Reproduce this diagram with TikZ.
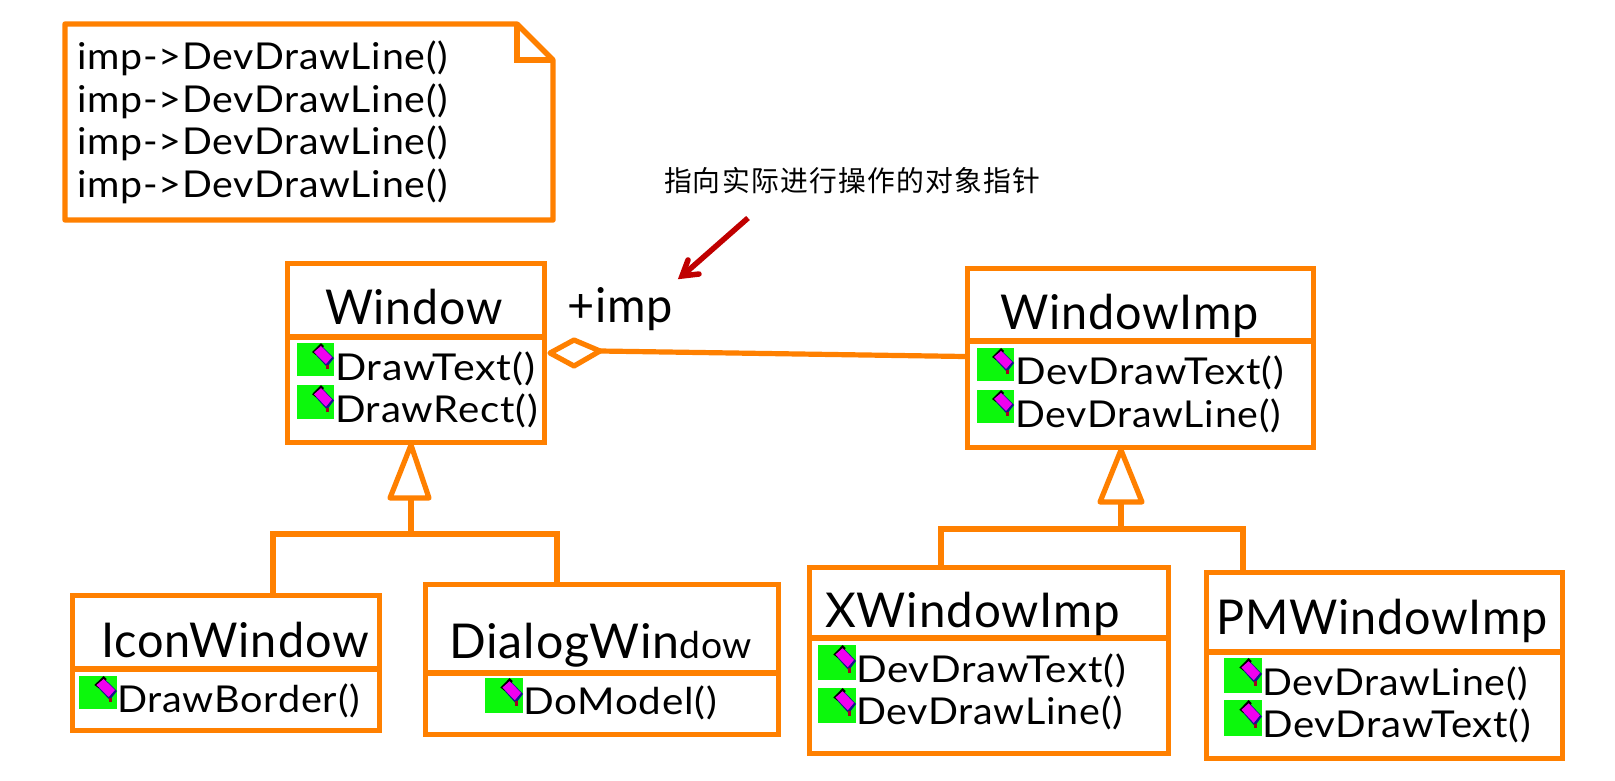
\documentclass[tikz,border=0pt]{standalone}
\usepackage{fontspec}
\usepackage{graphicx}
\setmainfont[LetterSpace=2]{Lato}
\newfontfamily\cjk[LetterSpace=4.5]{Noto Sans CJK SC}
\definecolor{umlorange}{HTML}{FF8000}
\definecolor{umlgreen}{HTML}{0CF80C}
\definecolor{umlmagenta}{HTML}{F000F0}
\definecolor{umlblue}{HTML}{14148C}
\definecolor{umlred}{HTML}{A00020}
\definecolor{arrowred}{HTML}{C00000}
\tikzset{
  x=1pt,y=-1pt,
  boxline/.style={draw=umlorange,line width=5.4pt},
  linkline/.style={draw=umlorange,line width=5.2pt,line join=miter},
  headline/.style={draw=umlorange,line width=5.2pt,line join=round,fill=white},
  classbox/.style={boxline,rectangle,inner sep=0pt,outer sep=0pt,fill=white},
  lbl/.style={inner sep=0pt,outer sep=0pt,anchor=base west,text=black},
  iconbox/.style={rectangle,fill=umlgreen,inner sep=0pt,outer sep=0pt,anchor=north west},
  pointer/.style={draw=arrowred,line width=5.5pt},
}
% name, x1, y1, x2, y2 (centre lines), divider y
\newcommand\classrect[6]{%
  \node[classbox,minimum width={(#4-#2)*1pt},minimum height={(#5-#3)*1pt}] (#1) at ({(#2+#4)/2},{(#3+#5)/2}) {};
  \draw[boxline] (#2,#6) -- (#4,#6);
}
% name, x, baseline y, ink width, size, text
\newcommand\lab[6]{%
  \pgfmathsetmacro\labw{#4+3}%
  \node[lbl] (#1) at (#2-2,#3) {\resizebox{\labw pt}{\height}{\fontsize{#5pt}{#5pt}\selectfont #6}};
}
% name, x1, y1, x2, y2
\newcommand\opicon[5]{%
  \pgfmathsetmacro\iw{#4-#2}\pgfmathsetmacro\ih{#5-#3}%
  \node[iconbox,minimum width=\iw pt,minimum height=\ih pt] (#1) at (#2,#3) {};
  \begin{scope}[shift={(#2,#3)},xscale=\iw/37,yscale=\ih/33]
    \fill[umlblue] (17,10) -- (24,2) -- (37,15) -- (30,24) -- cycle;
    \fill[black] (15,9) -- (24,0) -- (27,3) -- (19,12) -- cycle;
    \fill[umlred] (29,22) rectangle (32,26);
    \fill[umlmagenta] (17,9) -- (24,3) -- (35,14) -- (29,21) -- cycle;
  \end{scope}
}
\begin{document}
\begin{tikzpicture}
\useasboundingbox (0,0) rectangle (1615,780);
\fill[white] (0,0) rectangle (1615,780);

% note
\draw[boxline,line join=round,fill=white] (65,24) -- (517,24) -- (553,60) -- (553,220) -- (65,220) -- cycle;
\draw[boxline,line join=miter] (517,24) -- (517,60) -- (553,60);
\lab{n1}{79}{69}{368}{37}{imp->DevDrawLine()}
\lab{n2}{79}{112}{368}{37}{imp->DevDrawLine()}
\lab{n3}{79}{154}{368}{37}{imp->DevDrawLine()}
\lab{n4}{79}{197}{368}{37}{imp->DevDrawLine()}

% annotation
\node[lbl,anchor=west] (cap) at (664,181) {\resizebox{376pt}{\height}{\fontsize{28.5pt}{32pt}\selectfont\cjk 指向实际进行操作的对象指针}};
\coordinate (ptrstart) at (748,218);
\coordinate (ptrtip) at (682,276);
\coordinate (ptrb1) at (688,260);
\coordinate (ptrb2) at (699,274);
\draw[pointer] (ptrstart) -- (ptrtip);
\draw[pointer,line cap=round,line join=miter,miter limit=10] (ptrb1) -- (ptrtip) -- (ptrb2);

% classes
\classrect{window}{287.5}{263.5}{544.5}{442.5}{337}
\classrect{wimp}{967.5}{268.5}{1313.5}{447.5}{341}
\classrect{icon}{72.5}{595.5}{379.5}{730.5}{669}
\classrect{dialog}{425.5}{584.5}{778.5}{734.5}{673}
\classrect{xwin}{809.5}{567.5}{1168.5}{753.5}{638}
\classrect{pmwin}{1206.5}{572.5}{1562.5}{758.5}{652}

% links
\coordinate (tlApex) at (411,445);
\coordinate (tlL) at (390,498);
\coordinate (tlR) at (429,498);
\coordinate (tlBase) at (411,498);
\coordinate (tlBar) at (411,534);
\coordinate (iconTop) at (273,595.5);
\coordinate (dlgTop) at (557,584.5);
\coordinate (trApex) at (1121,450);
\coordinate (trL) at (1100,502);
\coordinate (trR) at (1142,502);
\coordinate (trBase) at (1121,502);
\coordinate (trBar) at (1121,529);
\coordinate (xTop) at (941,567.5);
\coordinate (pmTop) at (1243,572.5);
\coordinate (diaW) at (550,353);
\coordinate (diaN) at (574,340);
\coordinate (diaE) at (600,351);
\coordinate (diaS) at (574,366);
\coordinate (assocEnd) at (965,356.5);

\draw[linkline] (tlBase) -- (tlBar);
\draw[linkline] (iconTop) -- (iconTop |- tlBar) -- (dlgTop |- tlBar) -- (dlgTop);
\draw[headline] (tlApex) -- (tlR) -- (tlL) -- cycle;
\draw[linkline] (trBase) -- (trBar);
\draw[linkline] (xTop) -- (xTop |- trBar) -- (pmTop |- trBar) -- (pmTop);
\draw[headline] (trApex) -- (trR) -- (trL) -- cycle;
\draw[linkline] (diaE) -- (assocEnd);
\draw[headline] (diaW) -- (diaN) -- (diaE) -- (diaS) -- cycle;

% titles
\lab{tWindow}{327}{324}{175}{48}{Window}
\lab{tWimp}{1002}{329}{256}{48}{WindowImp}
\lab{tIcon}{103}{657}{265}{48}{IconWindow}
\lab{tDialog}{451}{658}{300}{48}{DialogWin{\fontsize{37pt}{37pt}\selectfont dow}}
\lab{tX}{827}{627}{292}{48}{XWindowImp}
\lab{tPM}{1218}{634}{329}{48}{PMWindowImp}
\lab{aimp}{569}{322}{103}{48}{+imp}

% operations
\opicon{iw1}{297}{343}{334}{376}
\lab{ow1}{337}{380}{197}{37}{DrawText()}
\opicon{iw2}{297}{385}{334}{419}
\lab{ow2}{337}{422}{200}{37}{DrawRect()}
\opicon{ii1}{977}{348}{1014}{381}
\lab{oi1}{1017}{384}{266}{37}{DevDrawText()}
\opicon{ii2}{977}{390}{1014}{423}
\lab{oi2}{1017}{427}{263}{37}{DevDrawLine()}
\opicon{ic1}{79}{676}{117}{709}
\lab{oc1}{119}{712}{240}{37}{DrawBorder()}
\opicon{id1}{485}{678}{523}{713}
\lab{od1}{525}{714}{191}{37}{DoModel()}
\opicon{ix1}{818}{645}{856}{680}
\lab{ox1}{858}{682}{267}{37}{DevDrawText()}
\opicon{ix2}{818}{688}{856}{723}
\lab{ox2}{858}{724}{264}{37}{DevDrawLine()}
\opicon{ip1}{1224}{658}{1262}{693}
\lab{op1}{1264}{695}{263}{37}{DevDrawLine()}
\opicon{ip2}{1224}{700}{1262}{736}
\lab{op2}{1264}{737}{266}{37}{DevDrawText()}
\end{tikzpicture}
\end{document}
